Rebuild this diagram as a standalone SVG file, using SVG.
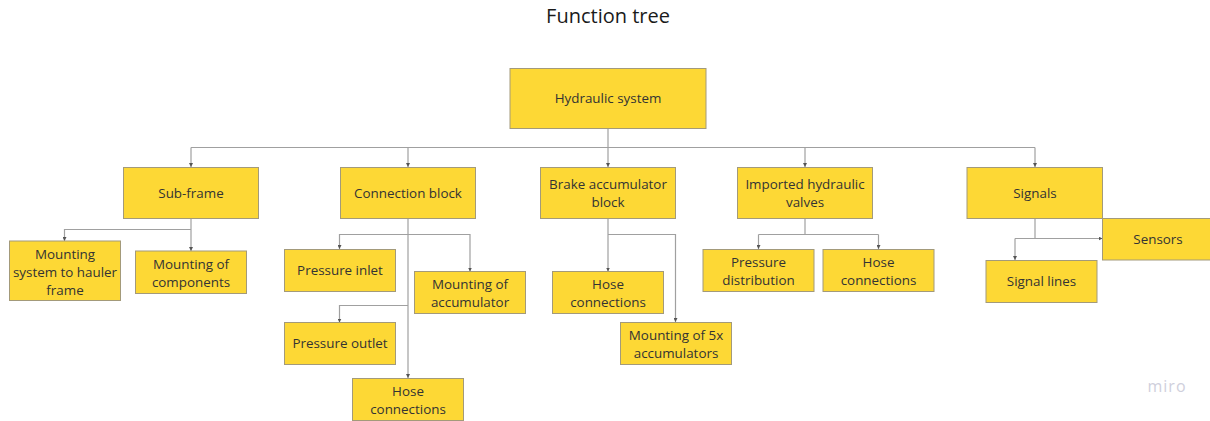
<svg xmlns="http://www.w3.org/2000/svg" width="1210" height="421" viewBox="0 0 1210 421">
<defs>
<style>
.n rect{fill:#fdd835;stroke:#a39a7a;stroke-width:1}
.n text{font-family:"Open Sans","Liberation Sans",sans-serif;font-size:13.4px;fill:#333;text-anchor:middle}
.c path{fill:none;stroke:#a0a0a0;stroke-width:1.2}
.title{font-family:"Open Sans","Liberation Sans",sans-serif;font-size:20px;fill:#1a1a1a;text-anchor:middle}
.logo{font-family:"Open Sans","Liberation Sans",sans-serif;font-size:16px;fill:#cfcfdc;text-anchor:middle;letter-spacing:1px}
</style>
<marker id="ah" viewBox="0 0 6 6" refX="6" refY="3" markerWidth="4" markerHeight="4" orient="auto" markerUnits="userSpaceOnUse">
<path d="M0,0 L6,3 L0,6 z" fill="#555"/>
</marker>
</defs>
<rect width="1210" height="421" fill="#fff"/>
<text class="title" x="608" y="23">Function tree</text>
<g class="c">
<path d="M608,128 V147.5"/>
<path d="M191,147.5 H1035"/>
<path d="M191,147.5 V167" marker-end="url(#ah)"/>
<path d="M408,147.5 V167" marker-end="url(#ah)"/>
<path d="M608,147.5 V167" marker-end="url(#ah)"/>
<path d="M805,147.5 V167" marker-end="url(#ah)"/>
<path d="M1035,147.5 V167" marker-end="url(#ah)"/>
<path d="M191,218 V251" marker-end="url(#ah)"/>
<path d="M191,229.5 H64.5 V241" marker-end="url(#ah)"/>
<path d="M408,218 V378" marker-end="url(#ah)"/>
<path d="M408,234.5 H339.5 V249" marker-end="url(#ah)"/>
<path d="M408,234.5 H470 V271.5" marker-end="url(#ah)"/>
<path d="M408,305.5 H339.5 V322.5" marker-end="url(#ah)"/>
<path d="M608,218 V271.5" marker-end="url(#ah)"/>
<path d="M608,234.5 H675.5 V322" marker-end="url(#ah)"/>
<path d="M805,218 V234.5"/>
<path d="M758.5,234.5 H878.5"/>
<path d="M758.5,234.5 V249" marker-end="url(#ah)"/>
<path d="M878.5,234.5 V249" marker-end="url(#ah)"/>
<path d="M1035,218 V238.5"/>
<path d="M1015,238.5 H1102.5" marker-end="url(#ah)"/>
<path d="M1015,238.5 V260" marker-end="url(#ah)"/>
</g>
<g id="hydraulic-system" class="n"><rect x="510" y="68.5" width="196" height="60"/><text x="608" y="103">Hydraulic system</text></g>
<g id="sub-frame" class="n"><rect x="123.5" y="167.5" width="135" height="51"/><text x="191" y="197.5">Sub-frame</text></g>
<g id="connection-block" class="n"><rect x="340.5" y="167.5" width="135" height="51"/><text x="408" y="197.5">Connection block</text></g>
<g id="brake-accumulator-block" class="n"><rect x="540.5" y="167.5" width="135" height="51"/><text x="608" y="188.5">Brake accumulator</text><text x="608" y="206.5">block</text></g>
<g id="imported-hydraulic-valves" class="n"><rect x="737.5" y="167.5" width="135" height="51"/><text x="805" y="188.5">Imported hydraulic</text><text x="805" y="206.5">valves</text></g>
<g id="signals" class="n"><rect x="967" y="167.5" width="135.5" height="51"/><text x="1035" y="197.5">Signals</text></g>
<g id="mounting-system" class="n"><rect x="9.5" y="241" width="111" height="59.5"/><text x="65" y="258.5">Mounting</text><text x="65" y="276.5">system to hauler</text><text x="65" y="294.5">frame</text></g>
<g id="mounting-components" class="n"><rect x="135.5" y="251" width="111" height="42.5"/><text x="191" y="268.5">Mounting of</text><text x="191" y="286.5">components</text></g>
<g id="pressure-inlet" class="n"><rect x="284.5" y="249.5" width="111" height="42"/><text x="340" y="275">Pressure inlet</text></g>
<g id="mounting-accumulator" class="n"><rect x="414.5" y="271.5" width="111" height="42"/><text x="470" y="289">Mounting of</text><text x="470" y="307">accumulator</text></g>
<g id="pressure-outlet" class="n"><rect x="284.5" y="322.5" width="111" height="42"/><text x="340" y="348">Pressure outlet</text></g>
<g id="cb-hose-connections" class="n"><rect x="352.5" y="378.5" width="111" height="42"/><text x="408" y="396">Hose</text><text x="408" y="414">connections</text></g>
<g id="bab-hose-connections" class="n"><rect x="552.5" y="271.5" width="111" height="42"/><text x="608" y="289">Hose</text><text x="608" y="307">connections</text></g>
<g id="mounting-5x" class="n"><rect x="620.5" y="322.5" width="111" height="42"/><text x="676" y="340">Mounting of 5x</text><text x="676" y="358">accumulators</text></g>
<g id="pressure-distribution" class="n"><rect x="703" y="249.5" width="111" height="42"/><text x="758.5" y="267">Pressure</text><text x="758.5" y="285">distribution</text></g>
<g id="ihv-hose-connections" class="n"><rect x="823" y="249.5" width="111" height="42"/><text x="878.5" y="267">Hose</text><text x="878.5" y="285">connections</text></g>
<g id="sensors" class="n"><rect x="1102.5" y="218.5" width="110" height="41.5"/><text x="1158" y="244">Sensors</text></g>
<g id="signal-lines" class="n"><rect x="986" y="260.5" width="111" height="42"/><text x="1041.5" y="286">Signal lines</text></g>
<text class="logo" x="1167" y="392">miro</text>
</svg>
